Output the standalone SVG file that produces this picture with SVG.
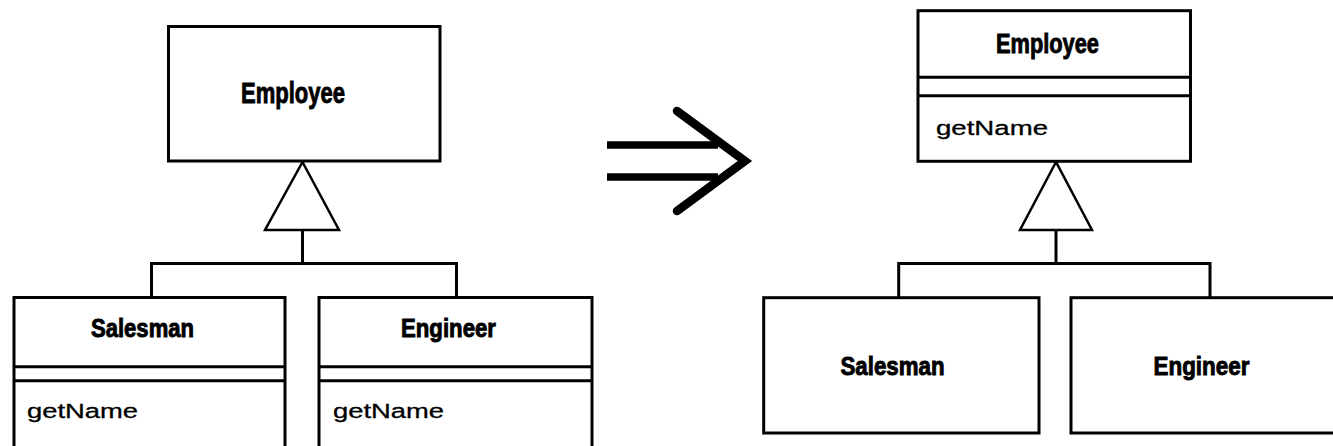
<svg xmlns="http://www.w3.org/2000/svg" width="1333" height="446" viewBox="0 0 1333 446">
<style>
.box{fill:#fff;stroke:#000;stroke-width:3}
.ln{fill:none;stroke:#000;stroke-width:3}
.tri{fill:#fff;stroke:#000;stroke-width:2.5}
.title{font-family:"Liberation Sans Narrow","Liberation Sans",Arial,sans-serif;font-weight:bold;fill:#000;stroke:#000;stroke-width:0.9}
.op{font-family:"Liberation Sans",Arial,sans-serif;font-size:20px;fill:#000;stroke:#000;stroke-width:0.3}
</style>
<rect width="1333" height="446" fill="#fff"/>
<g id="connectors">
<polygon class="tri" points="302.5,162 265,230 339,230"/>
<path class="ln" d="M302.5,230 V263.5 M151.5,297.5 V263.5 H456.5 V297.5"/>
<polygon class="tri" points="1056,162 1020,230 1092,230"/>
<path class="ln" d="M1056,230 V263.5 M898.7,297.5 V263.5 H1210 V297.5"/>
</g>
<g id="arrow">
<path d="M607,145 H718 M607,177 H718" fill="none" stroke="#000" stroke-width="7.5"/>
<path d="M677,111 L745,161 L677,211" fill="none" stroke="#000" stroke-width="8.5" stroke-linecap="round" stroke-linejoin="miter"/>
</g>
<g id="employee-left">
<rect class="box" x="168.5" y="26.5" width="271.5" height="134.5"/>
<text class="title" x="241" y="103" font-size="29" textLength="104" lengthAdjust="spacingAndGlyphs">Employee</text>
</g>
<g id="salesman-left">
<rect class="box" x="14" y="297.5" width="271" height="160"/>
<line class="ln" x1="14" y1="366.7" x2="285" y2="366.7"/>
<line class="ln" x1="14" y1="380.7" x2="285" y2="380.7"/>
<text class="title" x="91" y="337" font-size="25" textLength="103" lengthAdjust="spacingAndGlyphs">Salesman</text>
<text class="op" x="27" y="417.5" textLength="111" lengthAdjust="spacingAndGlyphs">getName</text>
</g>
<g id="engineer-left">
<rect class="box" x="319" y="297.5" width="273" height="160"/>
<line class="ln" x1="319" y1="366.7" x2="592" y2="366.7"/>
<line class="ln" x1="319" y1="380.7" x2="592" y2="380.7"/>
<text class="title" x="401" y="337" font-size="25" textLength="95" lengthAdjust="spacingAndGlyphs">Engineer</text>
<text class="op" x="333" y="417.5" textLength="111" lengthAdjust="spacingAndGlyphs">getName</text>
</g>
<g id="employee-right">
<rect class="box" x="918" y="10.7" width="272.5" height="150.6"/>
<line class="ln" x1="918" y1="77.3" x2="1190.5" y2="77.3"/>
<line class="ln" x1="918" y1="95.7" x2="1190.5" y2="95.7"/>
<text class="title" x="996" y="52.5" font-size="27" textLength="103" lengthAdjust="spacingAndGlyphs">Employee</text>
<text class="op" x="936" y="135" textLength="112" lengthAdjust="spacingAndGlyphs">getName</text>
</g>
<g id="salesman-right">
<rect class="box" x="763.7" y="297.7" width="275.3" height="135.3"/>
<text class="title" x="840.5" y="374.5" font-size="25" textLength="104" lengthAdjust="spacingAndGlyphs">Salesman</text>
</g>
<g id="engineer-right">
<rect class="box" x="1071" y="297.7" width="280" height="135.3"/>
<text class="title" x="1153.5" y="375" font-size="26" textLength="96" lengthAdjust="spacingAndGlyphs">Engineer</text>
</g>
</svg>
